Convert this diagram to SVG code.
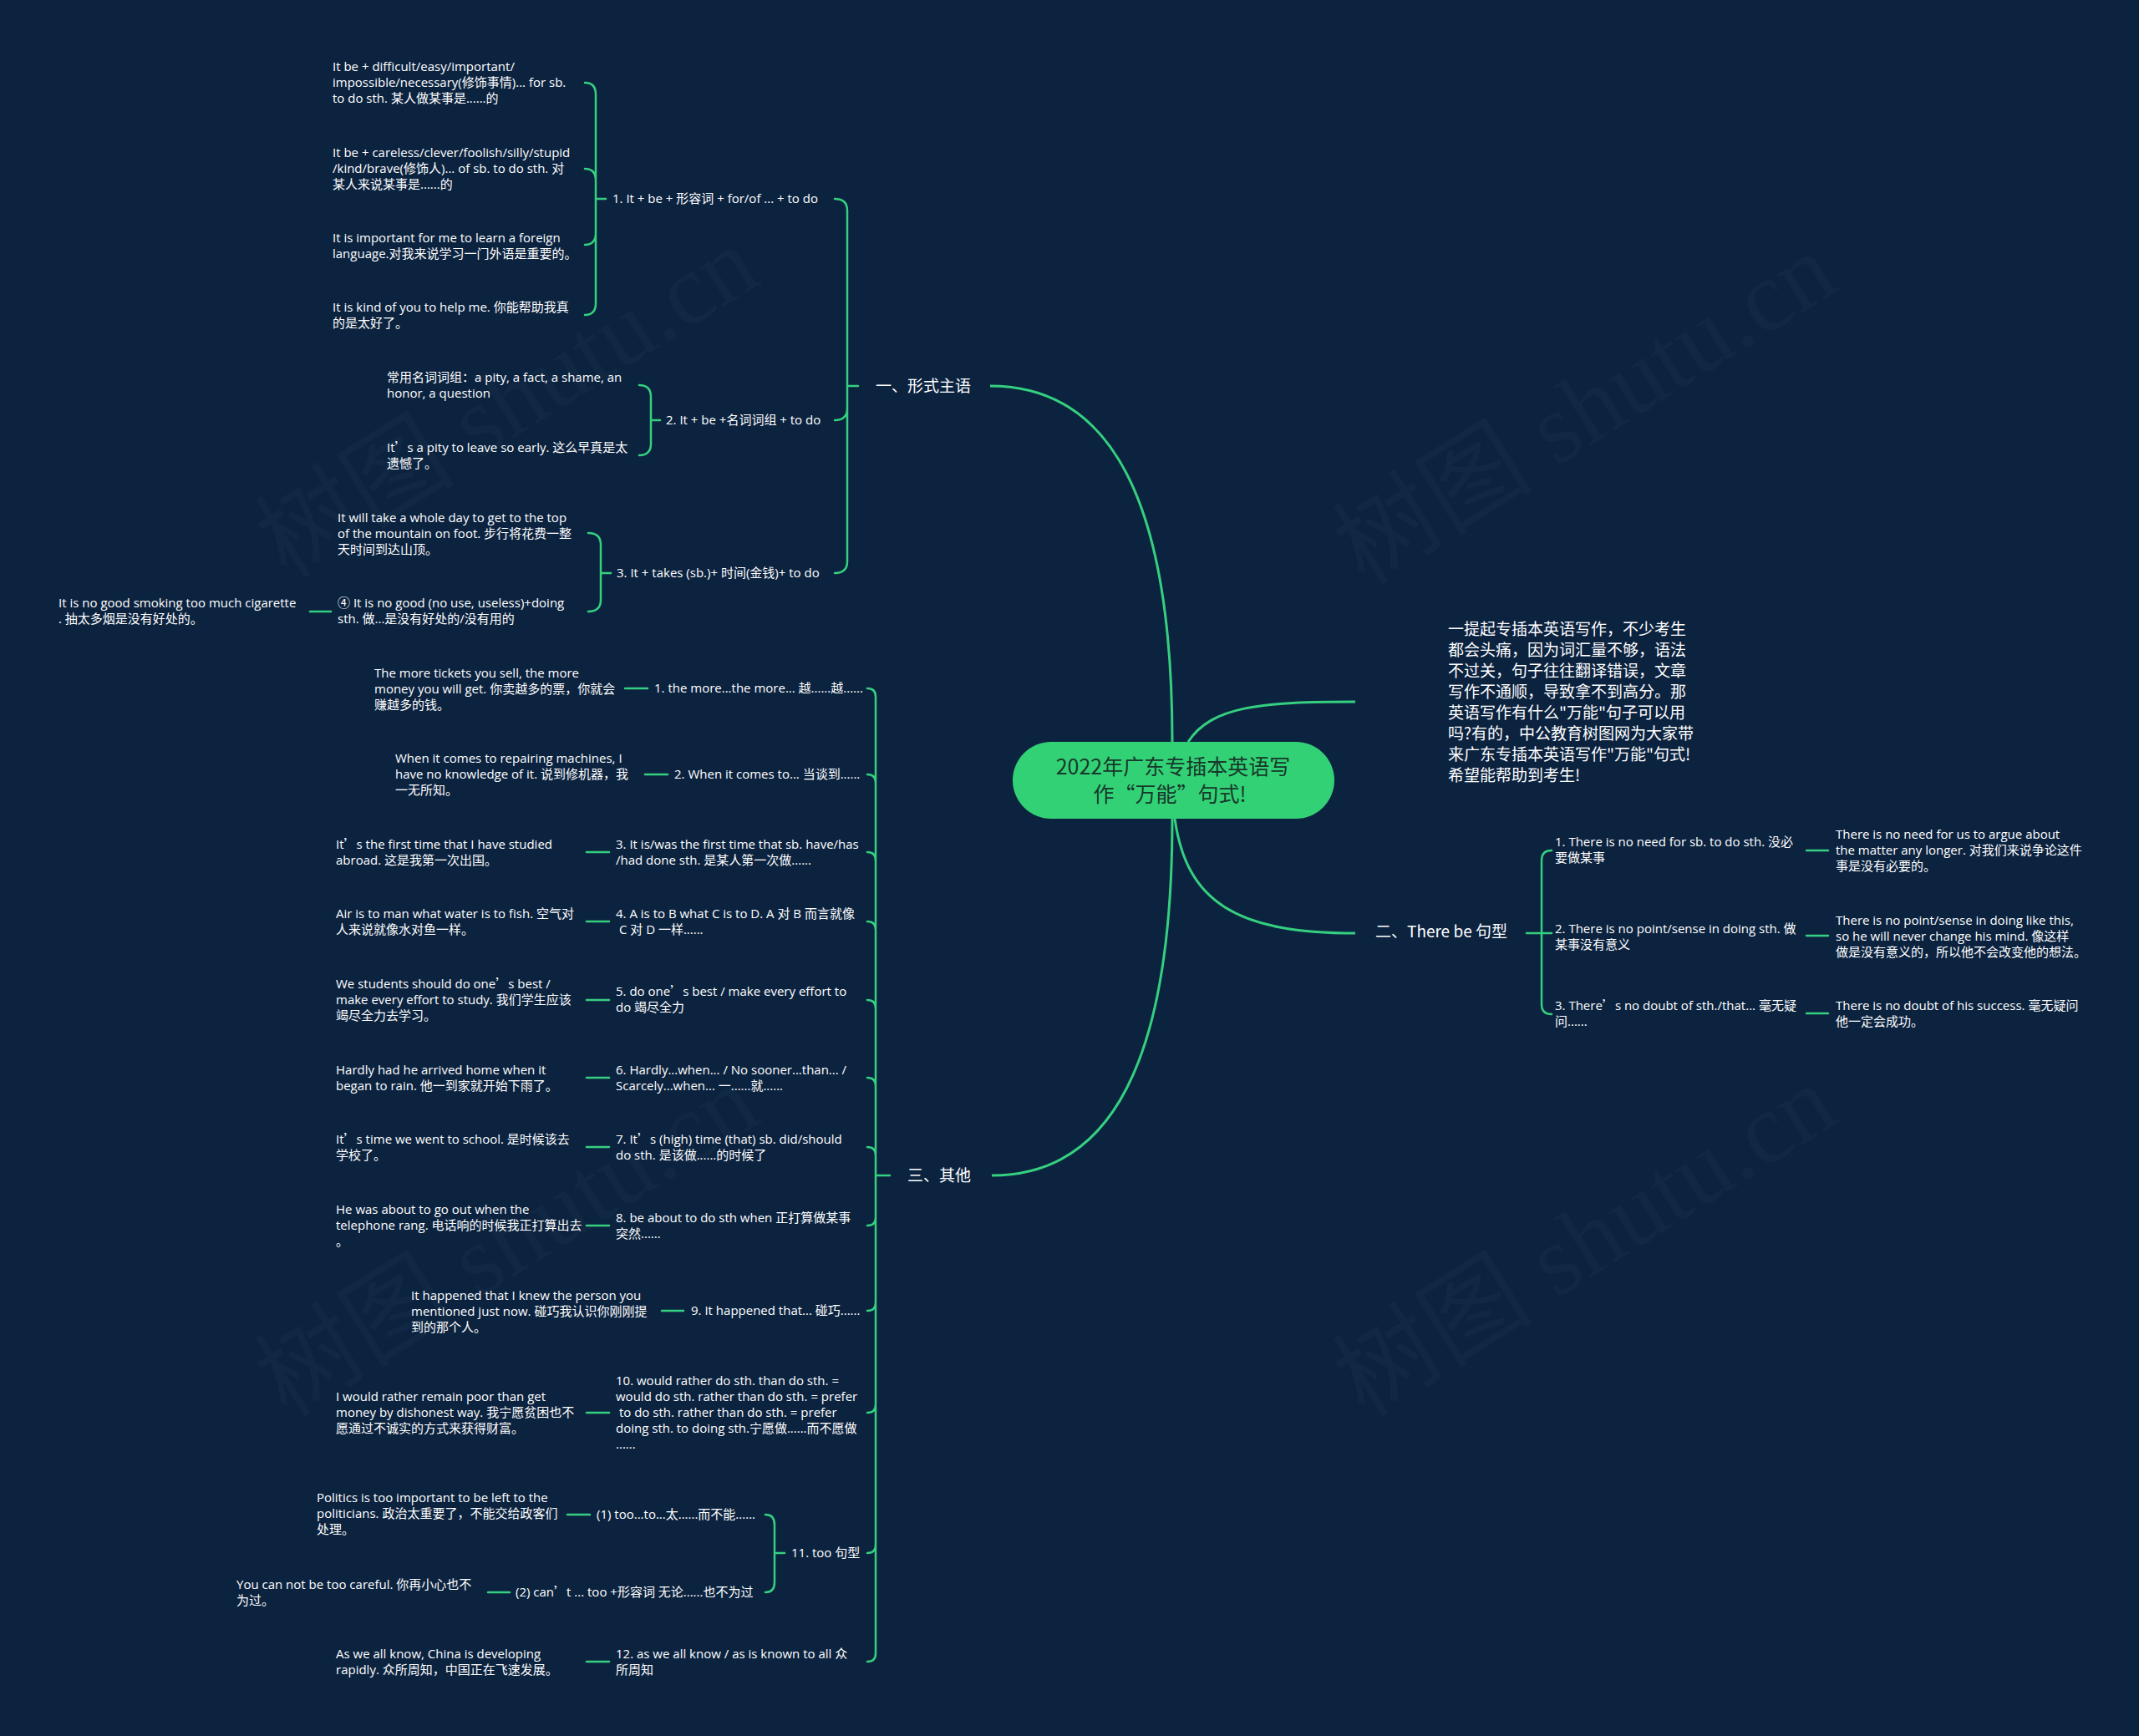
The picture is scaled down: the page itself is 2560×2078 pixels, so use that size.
<svg xmlns="http://www.w3.org/2000/svg" width="2560" height="2078" viewBox="0 0 2560 2078">
<style>
.t{font-family:"Open Sans","Noto Sans CJK SC",sans-serif;font-size:15px;fill:#ffffff}
.q{font-family:"Noto Sans CJK SC",sans-serif}
.b{font-family:"Noto Sans CJK SC",sans-serif;font-size:19px}
.i{font-family:"Noto Sans CJK SC",sans-serif;font-size:19px}
.m{font-family:"Noto Sans CJK SC","Noto Sans",sans-serif;font-size:25px;fill:#17382a;text-anchor:middle}
.c{stroke:#35d07f;stroke-width:2.5;fill:none;stroke-linecap:round}
.k{stroke:#35d07f;stroke-width:3;fill:none}
.w{font-family:"Liberation Serif","Noto Sans CJK SC",serif;font-size:120px;fill:#ffffff;fill-opacity:0.025}
</style>
<rect width="2560" height="2078" fill="#0c2340"/>
<g id="watermarks">
<text class="w" transform="translate(343,694) rotate(-32)">树图 shutu.cn</text>
<text class="w" transform="translate(1633,702) rotate(-32)">树图 shutu.cn</text>
<text class="w" transform="translate(343,1698) rotate(-32)">树图 shutu.cn</text>
<text class="w" transform="translate(1633,1698) rotate(-32)">树图 shutu.cn</text>
</g>
<g id="connectors">
<path class="k" d="M1403 888 C1403 600 1330 462 1185 462"/>
<path class="k" d="M1403 980 C1403 1270 1330 1407 1187 1407"/>
<path class="k" d="M1406 980 C1420 1080 1480 1117 1622 1117"/>
<path class="k" d="M1422 888 C1450 845 1510 840 1622 840"/>
<path class="c" d="M1027 462 H1014 V252 Q1014 238 999 238 M1014 462 V489 Q1014 503 999 503 M1014 462 V672 Q1014 686 999 686"/>
<path class="c" d="M725 238 H713 V113 Q713 99 700 99 M713 238 V216 Q713 202 700 202 M713 238 V279 Q713 293 700 293 M713 238 V363 Q713 377 700 377"/>
<path class="c" d="M790 503 H779 V475 Q779 461 765 461 M779 503 V531 Q779 545 765 545"/>
<path class="c" d="M731 686 H719 V652 Q719 638 704 638 M719 686 V718 Q719 732 704 732"/>
<path class="c" d="M396 732 H371"/>
<path class="c" d="M1065 1407 H1048 V834 Q1048 824 1038 824 M1048 1407 V937 Q1048 927 1038 927 M1048 1407 V1030 Q1048 1020 1038 1020 M1048 1407 V1113 Q1048 1103 1038 1103 M1048 1407 V1207 Q1048 1197 1038 1197 M1048 1407 V1300 Q1048 1290 1038 1290 M1048 1407 V1383 Q1048 1373 1038 1373 M1048 1407 V1457 Q1048 1467 1038 1467 M1048 1407 V1559 Q1048 1569 1038 1569 M1048 1407 V1681 Q1048 1691 1038 1691 M1048 1407 V1849 Q1048 1859 1038 1859 M1048 1407 V1979 Q1048 1989 1038 1989"/>
<path class="c" d="M748 824 H775 M772 927 H799 M702 1020 H729 M702 1103 H729 M702 1197 H729 M702 1290 H729 M702 1373 H729 M702 1467 H729 M792 1569 H818 M702 1691 H729 M702 1989 H729"/>
<path class="c" d="M939 1859 H927 V1825 Q927 1813 916 1813 M927 1859 V1894 Q927 1906 916 1906"/>
<path class="c" d="M679 1813 H706 M584 1906 H610"/>
<path class="c" d="M1827 1117 H1845 V1030 Q1845 1018 1857 1018 M1845 1117 H1857 M1845 1117 V1202 Q1845 1214 1857 1214"/>
<path class="c" d="M2162 1018 H2188 M2162 1120 H2188 M2162 1213 H2188"/>
</g>
<g id="root">
<rect x="1212" y="888" width="385" height="92" rx="46" fill="#33d176"/>
<text class="m" x="1404" y="927">2022年广东专插本英语写</text>
<text class="m" x="1400" y="960">作“万能”句式!</text>
</g>
<g id="intro">
<text class="t i" x="1733" y="760"><tspan x="1733">一提起专插本英语写作，不少考生</tspan><tspan x="1733" dy="25">都会头痛，因为词汇量不够，语法</tspan><tspan x="1733" dy="25">不过关，句子往往翻译错误，文章</tspan><tspan x="1733" dy="25">写作不通顺，导致拿不到高分。那</tspan><tspan x="1733" dy="25">英语写作有什么"万能"句子可以用</tspan><tspan x="1733" dy="25">吗?有的，中公教育树图网为大家带</tspan><tspan x="1733" dy="25">来广东专插本英语写作"万能"句式!</tspan><tspan x="1733" dy="25">希望能帮助到考生!</tspan></text>
</g>
<g id="b1"><text class="t b" x="1048" y="469">一、形式主语</text></g>
<g id="b1-1"><text class="t" x="733" y="243">1. It + be + 形容词 + for/of ... + to do</text></g>
<g id="b1-1a"><text class="t" x="398" y="85"><tspan x="398">It be + difficult/easy/important/</tspan><tspan x="398" dy="19">impossible/necessary(修饰事情)... for sb.</tspan><tspan x="398" dy="19">to do sth. 某人做某事是......的</tspan></text></g>
<g id="b1-1b"><text class="t" x="398" y="188"><tspan x="398">It be + careless/clever/foolish/silly/stupid</tspan><tspan x="398" dy="19">/kind/brave(修饰人)... of sb. to do sth. 对</tspan><tspan x="398" dy="19">某人来说某事是......的</tspan></text></g>
<g id="b1-1c"><text class="t" x="398" y="290"><tspan x="398">It is important for me to learn a foreign</tspan><tspan x="398" dy="19">language.对我来说学习一门外语是重要的。</tspan></text></g>
<g id="b1-1d"><text class="t" x="398" y="373"><tspan x="398">It is kind of you to help me. 你能帮助我真</tspan><tspan x="398" dy="19">的是太好了。</tspan></text></g>
<g id="b1-2"><text class="t" x="797" y="508">2. It + be +名词词组 + to do</text></g>
<g id="b1-2a"><text class="t" x="463" y="457"><tspan x="463">常用名词词组：a pity, a fact, a shame, an</tspan><tspan x="463" dy="19">honor, a question</tspan></text></g>
<g id="b1-2b"><text class="t" x="463" y="541"><tspan x="463">It<tspan class="q">’</tspan>s a pity to leave so early. 这么早真是太</tspan><tspan x="463" dy="19">遗憾了。</tspan></text></g>
<g id="b1-3"><text class="t" x="738" y="691">3. It + takes (sb.)+ 时间(金钱)+ to do</text></g>
<g id="b1-3a"><text class="t" x="404" y="625"><tspan x="404">It will take a whole day to get to the top</tspan><tspan x="404" dy="19">of the mountain on foot. 步行将花费一整</tspan><tspan x="404" dy="19">天时间到达山顶。</tspan></text></g>
<g id="b1-3b"><text class="t" x="404" y="727"><tspan x="404">④ It is no good (no use, useless)+doing</tspan><tspan x="404" dy="19">sth. 做...是没有好处的/没有用的</tspan></text></g>
<g id="b1-3b1"><text class="t" x="70" y="727"><tspan x="70">It is no good smoking too much cigarette</tspan><tspan x="70" dy="19">. 抽太多烟是没有好处的。</tspan></text></g>
<g id="b2"><text class="t b" x="1646" y="1122">二、There be 句型</text></g>
<g id="b2-1"><text class="t" x="1861" y="1013"><tspan x="1861">1. There is no need for sb. to do sth. 没必</tspan><tspan x="1861" dy="19">要做某事</tspan></text></g>
<g id="b2-1a"><text class="t" x="2197" y="1004"><tspan x="2197">There is no need for us to argue about</tspan><tspan x="2197" dy="19">the matter any longer. 对我们来说争论这件</tspan><tspan x="2197" dy="19">事是没有必要的。</tspan></text></g>
<g id="b2-2"><text class="t" x="1861" y="1117"><tspan x="1861">2. There is no point/sense in doing sth. 做</tspan><tspan x="1861" dy="19">某事没有意义</tspan></text></g>
<g id="b2-2a"><text class="t" x="2197" y="1107"><tspan x="2197">There is no point/sense in doing like this,</tspan><tspan x="2197" dy="19">so he will never change his mind. 像这样</tspan><tspan x="2197" dy="19">做是没有意义的，所以他不会改变他的想法。</tspan></text></g>
<g id="b2-3"><text class="t" x="1861" y="1209"><tspan x="1861">3. There<tspan class="q">’</tspan>s no doubt of sth./that... 毫无疑</tspan><tspan x="1861" dy="19">问......</tspan></text></g>
<g id="b2-3a"><text class="t" x="2197" y="1209"><tspan x="2197">There is no doubt of his success. 毫无疑问</tspan><tspan x="2197" dy="19">他一定会成功。</tspan></text></g>
<g id="b3"><text class="t b" x="1086" y="1414">三、其他</text></g>
<g id="b3-1"><text class="t" x="783" y="829">1. the more...the more... 越......越......</text></g>
<g id="b3-1a"><text class="t" x="448" y="811"><tspan x="448">The more tickets you sell, the more</tspan><tspan x="448" dy="19">money you will get. 你卖越多的票，你就会</tspan><tspan x="448" dy="19">赚越多的钱。</tspan></text></g>
<g id="b3-2"><text class="t" x="807" y="932">2. When it comes to... 当谈到......</text></g>
<g id="b3-2a"><text class="t" x="473" y="913"><tspan x="473">When it comes to repairing machines, I</tspan><tspan x="473" dy="19">have no knowledge of it. 说到修机器，我</tspan><tspan x="473" dy="19">一无所知。</tspan></text></g>
<g id="b3-3"><text class="t" x="737" y="1016"><tspan x="737">3. It is/was the first time that sb. have/has</tspan><tspan x="737" dy="19">/had done sth. 是某人第一次做......</tspan></text></g>
<g id="b3-3a"><text class="t" x="402" y="1016"><tspan x="402">It<tspan class="q">’</tspan>s the first time that I have studied</tspan><tspan x="402" dy="19">abroad. 这是我第一次出国。</tspan></text></g>
<g id="b3-4"><text class="t" x="737" y="1099"><tspan x="737">4. A is to B what C is to D. A 对 B 而言就像</tspan><tspan x="737" dy="19"> C 对 D 一样......</tspan></text></g>
<g id="b3-4a"><text class="t" x="402" y="1099"><tspan x="402">Air is to man what water is to fish. 空气对</tspan><tspan x="402" dy="19">人来说就像水对鱼一样。</tspan></text></g>
<g id="b3-5"><text class="t" x="737" y="1192"><tspan x="737">5. do one<tspan class="q">’</tspan>s best / make every effort to</tspan><tspan x="737" dy="19">do 竭尽全力</tspan></text></g>
<g id="b3-5a"><text class="t" x="402" y="1183"><tspan x="402">We students should do one<tspan class="q">’</tspan>s best /</tspan><tspan x="402" dy="19">make every effort to study. 我们学生应该</tspan><tspan x="402" dy="19">竭尽全力去学习。</tspan></text></g>
<g id="b3-6"><text class="t" x="737" y="1286"><tspan x="737">6. Hardly...when... / No sooner...than... /</tspan><tspan x="737" dy="19">Scarcely...when... 一......就......</tspan></text></g>
<g id="b3-6a"><text class="t" x="402" y="1286"><tspan x="402">Hardly had he arrived home when it</tspan><tspan x="402" dy="19">began to rain. 他一到家就开始下雨了。</tspan></text></g>
<g id="b3-7"><text class="t" x="737" y="1369"><tspan x="737">7. It<tspan class="q">’</tspan>s (high) time (that) sb. did/should</tspan><tspan x="737" dy="19">do sth. 是该做......的时候了</tspan></text></g>
<g id="b3-7a"><text class="t" x="402" y="1369"><tspan x="402">It<tspan class="q">’</tspan>s time we went to school. 是时候该去</tspan><tspan x="402" dy="19">学校了。</tspan></text></g>
<g id="b3-8"><text class="t" x="737" y="1463"><tspan x="737">8. be about to do sth when 正打算做某事</tspan><tspan x="737" dy="19">突然......</tspan></text></g>
<g id="b3-8a"><text class="t" x="402" y="1453"><tspan x="402">He was about to go out when the</tspan><tspan x="402" dy="19">telephone rang. 电话响的时候我正打算出去</tspan><tspan x="402" dy="19">。</tspan></text></g>
<g id="b3-9"><text class="t" x="827" y="1574">9. It happened that... 碰巧......</text></g>
<g id="b3-9a"><text class="t" x="492" y="1556"><tspan x="492">It happened that I knew the person you</tspan><tspan x="492" dy="19">mentioned just now. 碰巧我认识你刚刚提</tspan><tspan x="492" dy="19">到的那个人。</tspan></text></g>
<g id="b3-10"><text class="t" x="737" y="1658"><tspan x="737">10. would rather do sth. than do sth. =</tspan><tspan x="737" dy="19">would do sth. rather than do sth. = prefer</tspan><tspan x="737" dy="19"> to do sth. rather than do sth. = prefer</tspan><tspan x="737" dy="19">doing sth. to doing sth.宁愿做......而不愿做</tspan><tspan x="737" dy="19">......</tspan></text></g>
<g id="b3-10a"><text class="t" x="402" y="1677"><tspan x="402">I would rather remain poor than get</tspan><tspan x="402" dy="19">money by dishonest way. 我宁愿贫困也不</tspan><tspan x="402" dy="19">愿通过不诚实的方式来获得财富。</tspan></text></g>
<g id="b3-11"><text class="t" x="947" y="1864">11. too 句型</text></g>
<g id="b3-11-1"><text class="t" x="714" y="1818">(1) too...to...太......而不能......</text></g>
<g id="b3-11-1a"><text class="t" x="379" y="1798"><tspan x="379">Politics is too important to be left to the</tspan><tspan x="379" dy="19">politicians. 政治太重要了，不能交给政客们</tspan><tspan x="379" dy="19">处理。</tspan></text></g>
<g id="b3-11-2"><text class="t" x="617" y="1911">(2) can<tspan class="q">’</tspan>t ... too +形容词 无论......也不为过</text></g>
<g id="b3-11-2a"><text class="t" x="283" y="1902"><tspan x="283">You can not be too careful. 你再小心也不</tspan><tspan x="283" dy="19">为过。</tspan></text></g>
<g id="b3-12"><text class="t" x="737" y="1985"><tspan x="737">12. as we all know / as is known to all 众</tspan><tspan x="737" dy="19">所周知</tspan></text></g>
<g id="b3-12a"><text class="t" x="402" y="1985"><tspan x="402">As we all know, China is developing</tspan><tspan x="402" dy="19">rapidly. 众所周知，中国正在飞速发展。</tspan></text></g>
</svg>
